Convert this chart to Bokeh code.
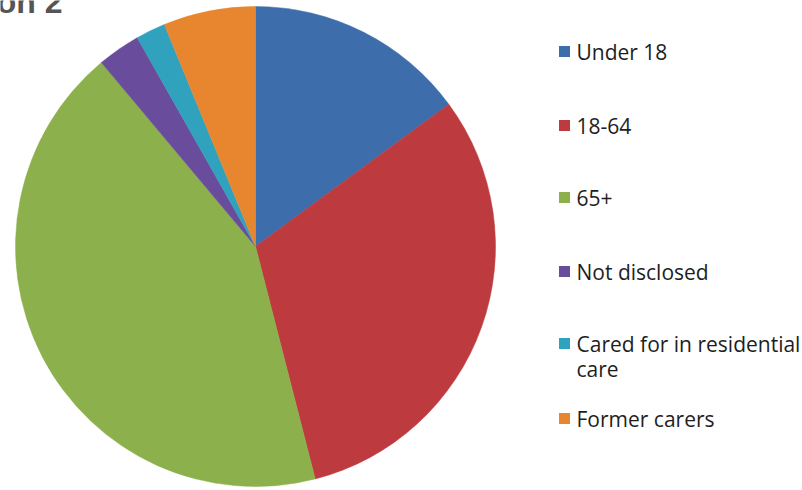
import math
from bokeh.plotting import figure
from bokeh.models import Label, Range1d, ColumnDataSource
from bokeh.embed import file_html
from bokeh.resources import INLINE

# Data
categories = ["Under 18", "18-64", "65+", "Not disclosed", "Cared for in residential\ncare", "Former carers"]
shares = [14.9, 31.1, 42.9, 2.9, 2.0, 6.2]
colors = ["#3D6DAB", "#BD3B3E", "#8CB04C", "#6A4C9D", "#30A2BD", "#E8862F"]
title_text = "Question 2"

W, H = 802, 490
p = figure(width=W, height=H, output_backend="svg", toolbar_location=None,
           x_range=Range1d(0, W), y_range=Range1d(0, H), min_border=0)
p.axis.visible = False
p.grid.visible = False
p.outline_line_color = None
p.background_fill_color = "white"
p.border_fill_color = "white"

# Pie wedges, clockwise from 12 o'clock
total = sum(shares)
starts, ends = [], []
cum = 0.0
for s in shares:
    a0 = cum / total
    cum += s
    a1 = cum / total
    starts.append(math.pi / 2 - a1 * 2 * math.pi)
    ends.append(math.pi / 2 - a0 * 2 * math.pi)

cx, cy, r = 255, H - 246, 240
src = ColumnDataSource(dict(start=starts, end=ends, color=colors))
p.wedge(x=cx, y=cy, radius=r, start_angle="start", end_angle="end",
        fill_color="color", line_color="color", line_width=0.5, source=src)

# Legend (manual)
leg_y = [51, 125, 197, 271, 343, 418]
sq_x = 564
tx = 576
for cat, col, yy in zip(categories, colors, leg_y):
    p.rect(x=sq_x, y=H - yy, width=11, height=11, fill_color=col, line_color=None)
    lines = cat.split("\n")
    for i, ln in enumerate(lines):
        p.add_layout(Label(x=tx, y=H - yy - i * 25, text=ln, text_font="Open Sans",
                           text_font_size="21px", text_color="#1e1e1e",
                           text_baseline="middle", text_align="left"))

# Title at top-left, cropped by the page edge as in the original
p.add_layout(Label(x=62, y=H - 1, text=title_text, text_font="Liberation Sans",
                   text_font_style="bold", text_font_size="32px", text_color="#555555",
                   text_baseline="alphabetic", text_align="right"))

open("out.html", "w").write(file_html(p, INLINE))
